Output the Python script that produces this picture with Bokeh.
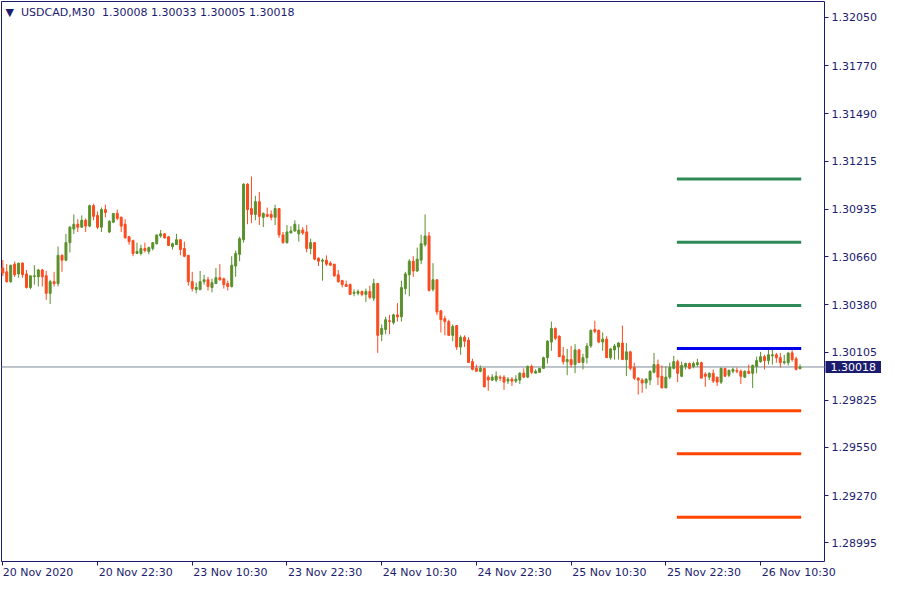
from bokeh.plotting import figure
from bokeh.models import (Range1d, FixedTicker, Label, ColumnDataSource,
                          PrintfTickFormatter, LinearAxis)
from bokeh.embed import file_html
from bokeh.resources import INLINE

SYMBOL = "USDCAD,M30"

opens = [
    1.30593, 1.30571, 1.30514, 1.30616, 1.30559, 1.30622, 1.30559, 1.30480, 1.30544, 1.30542,
    1.30582, 1.30548, 1.30446, 1.30514, 1.30503, 1.30667, 1.30639, 1.30741, 1.30820, 1.30848,
    1.30831, 1.30871, 1.30837, 1.30956, 1.30899, 1.30831, 1.30933, 1.30803, 1.30860, 1.30911,
    1.30888, 1.30848, 1.30775, 1.30752, 1.30678, 1.30678, 1.30707, 1.30690, 1.30707, 1.30735,
    1.30780, 1.30792, 1.30775, 1.30718, 1.30729, 1.30758, 1.30707, 1.30667, 1.30514, 1.30469,
    1.30469, 1.30514, 1.30525, 1.30480, 1.30503, 1.30537, 1.30531, 1.30503, 1.30486, 1.30605,
    1.30673, 1.30758, 1.31081, 1.30939, 1.30905, 1.30979, 1.30888, 1.30905, 1.30905, 1.30888,
    1.30939, 1.30786, 1.30741, 1.30797, 1.30809, 1.30792, 1.30814, 1.30803, 1.30707, 1.30741,
    1.30650, 1.30633, 1.30639, 1.30622, 1.30616, 1.30554, 1.30520, 1.30497, 1.30497, 1.30446,
    1.30446, 1.30457, 1.30440, 1.30457, 1.30418, 1.30503, 1.30208, 1.30236, 1.30287, 1.30276,
    1.30321, 1.30310, 1.30474, 1.30554, 1.30633, 1.30576, 1.30639, 1.30729, 1.30780, 1.30469,
    1.30525, 1.30344, 1.30299, 1.30282, 1.30202, 1.30259, 1.30134, 1.30191, 1.30174, 1.30049,
    1.30010, 1.29993, 1.30010, 1.29959, 1.29942, 1.29942, 1.29959, 1.29959, 1.29936, 1.29947,
    1.29936, 1.29942, 1.29982, 1.29959, 1.30021, 1.29982, 1.29987, 1.30010, 1.30072, 1.30163,
    1.30242, 1.30197, 1.30083, 1.30049, 1.30061, 1.30032, 1.30117, 1.30044, 1.30072, 1.30140,
    1.30236, 1.30231, 1.30163, 1.30180, 1.30072, 1.30117, 1.30134, 1.30157, 1.30061, 1.30106,
    1.30015, 1.29953, 1.29942, 1.29925, 1.29942, 1.29987, 1.30032, 1.29964, 1.29896, 1.29959,
    1.30010, 1.30049, 1.29964, 1.30021, 1.30038, 1.30021, 1.30032, 1.30043, 1.29976, 1.29959,
    1.29981, 1.29959, 1.29930, 1.30010, 1.29970, 1.29993, 1.29998, 1.29993, 1.29959, 1.29993,
    1.29981, 1.30021, 1.30049, 1.30078, 1.30055, 1.30083, 1.30089, 1.30072, 1.30043, 1.30043,
    1.30100, 1.30066, 1.30008,
]
highs = [
    1.30640, 1.30616, 1.30610, 1.30631, 1.30622, 1.30627, 1.30582, 1.30548, 1.30610, 1.30588,
    1.30588, 1.30576, 1.30525, 1.30571, 1.30718, 1.30673, 1.30792, 1.30837, 1.30905, 1.30877,
    1.30899, 1.30882, 1.30962, 1.30967, 1.30922, 1.30945, 1.30962, 1.30871, 1.30911, 1.30933,
    1.30894, 1.30877, 1.30780, 1.30758, 1.30741, 1.30729, 1.30741, 1.30718, 1.30741, 1.30786,
    1.30814, 1.30797, 1.30780, 1.30741, 1.30792, 1.30758, 1.30747, 1.30667, 1.30571, 1.30508,
    1.30576, 1.30554, 1.30542, 1.30531, 1.30593, 1.30616, 1.30537, 1.30520, 1.30662, 1.30695,
    1.30775, 1.31086, 1.31086, 1.31126, 1.31013, 1.31035, 1.30916, 1.30945, 1.30928, 1.30962,
    1.30939, 1.30803, 1.30843, 1.30837, 1.30871, 1.30848, 1.30831, 1.30843, 1.30764, 1.30741,
    1.30656, 1.30650, 1.30667, 1.30633, 1.30616, 1.30582, 1.30525, 1.30520, 1.30503, 1.30469,
    1.30469, 1.30463, 1.30474, 1.30491, 1.30531, 1.30503, 1.30265, 1.30310, 1.30321, 1.30327,
    1.30389, 1.30520, 1.30571, 1.30645, 1.30662, 1.30712, 1.30786, 1.30905, 1.30803, 1.30622,
    1.30525, 1.30350, 1.30316, 1.30293, 1.30265, 1.30259, 1.30202, 1.30202, 1.30191, 1.30066,
    1.30032, 1.30027, 1.30010, 1.29970, 1.29976, 1.29993, 1.29970, 1.29970, 1.29959, 1.29959,
    1.29970, 1.29987, 1.30010, 1.30027, 1.30032, 1.30004, 1.30010, 1.30078, 1.30174, 1.30282,
    1.30248, 1.30202, 1.30134, 1.30123, 1.30140, 1.30151, 1.30123, 1.30095, 1.30157, 1.30236,
    1.30287, 1.30236, 1.30219, 1.30197, 1.30129, 1.30151, 1.30163, 1.30259, 1.30157, 1.30112,
    1.30043, 1.29959, 1.29953, 1.29953, 1.29998, 1.30100, 1.30061, 1.30027, 1.30021, 1.30043,
    1.30083, 1.30061, 1.30049, 1.30043, 1.30043, 1.30049, 1.30066, 1.30049, 1.29987, 1.29987,
    1.30004, 1.29959, 1.30015, 1.30010, 1.30004, 1.30015, 1.30015, 1.30004, 1.29998, 1.30032,
    1.30032, 1.30078, 1.30106, 1.30089, 1.30117, 1.30129, 1.30100, 1.30100, 1.30089, 1.30100,
    1.30123, 1.30078, 1.30033,
]
lows = [
    1.30546, 1.30508, 1.30508, 1.30542, 1.30537, 1.30537, 1.30474, 1.30470, 1.30497, 1.30486,
    1.30486, 1.30408, 1.30384, 1.30486, 1.30486, 1.30571, 1.30633, 1.30684, 1.30792, 1.30803,
    1.30826, 1.30803, 1.30831, 1.30871, 1.30820, 1.30803, 1.30888, 1.30797, 1.30854, 1.30871,
    1.30803, 1.30764, 1.30729, 1.30662, 1.30678, 1.30667, 1.30684, 1.30673, 1.30695, 1.30729,
    1.30769, 1.30764, 1.30724, 1.30701, 1.30729, 1.30667, 1.30656, 1.30491, 1.30457, 1.30446,
    1.30463, 1.30497, 1.30463, 1.30452, 1.30503, 1.30520, 1.30474, 1.30463, 1.30480, 1.30542,
    1.30633, 1.30741, 1.30848, 1.30854, 1.30871, 1.30843, 1.30831, 1.30888, 1.30871, 1.30843,
    1.30769, 1.30735, 1.30735, 1.30797, 1.30803, 1.30747, 1.30786, 1.30684, 1.30673, 1.30639,
    1.30605, 1.30520, 1.30605, 1.30605, 1.30542, 1.30508, 1.30480, 1.30486, 1.30440, 1.30429,
    1.30435, 1.30429, 1.30395, 1.30412, 1.30401, 1.30100, 1.30168, 1.30208, 1.30208, 1.30265,
    1.30282, 1.30282, 1.30440, 1.30429, 1.30542, 1.30571, 1.30616, 1.30718, 1.30457, 1.30457,
    1.30321, 1.30219, 1.30202, 1.30202, 1.30168, 1.30117, 1.30089, 1.30134, 1.30044, 1.29998,
    1.29993, 1.29987, 1.29902, 1.29879, 1.29936, 1.29930, 1.29936, 1.29885, 1.29919, 1.29908,
    1.29925, 1.29919, 1.29953, 1.29953, 1.29976, 1.29982, 1.29987, 1.30010, 1.30038, 1.30112,
    1.30174, 1.30078, 1.30032, 1.29970, 1.30015, 1.29982, 1.30044, 1.30004, 1.30038, 1.30129,
    1.30214, 1.30157, 1.30112, 1.30072, 1.30061, 1.30061, 1.30061, 1.30061, 1.29965, 1.29998,
    1.29942, 1.29857, 1.29868, 1.29891, 1.29913, 1.29981, 1.29913, 1.29896, 1.29896, 1.29947,
    1.30004, 1.29930, 1.29959, 1.30004, 1.30004, 1.30010, 1.30021, 1.29953, 1.29902, 1.29942,
    1.29925, 1.29908, 1.29919, 1.29964, 1.29959, 1.29981, 1.29981, 1.29919, 1.29953, 1.29976,
    1.29896, 1.29981, 1.30043, 1.30004, 1.30032, 1.30032, 1.30043, 1.30015, 1.30032, 1.30027,
    1.30049, 1.29998, 1.30005,
]
closes = [
    1.30565, 1.30514, 1.30610, 1.30554, 1.30622, 1.30555, 1.30480, 1.30548, 1.30548, 1.30582,
    1.30542, 1.30446, 1.30514, 1.30503, 1.30667, 1.30639, 1.30741, 1.30831, 1.30848, 1.30831,
    1.30871, 1.30837, 1.30956, 1.30894, 1.30831, 1.30933, 1.30916, 1.30865, 1.30911, 1.30882,
    1.30837, 1.30769, 1.30747, 1.30678, 1.30690, 1.30707, 1.30695, 1.30712, 1.30741, 1.30786,
    1.30792, 1.30769, 1.30724, 1.30735, 1.30758, 1.30701, 1.30662, 1.30514, 1.30474, 1.30480,
    1.30514, 1.30525, 1.30486, 1.30508, 1.30537, 1.30525, 1.30497, 1.30486, 1.30610, 1.30678,
    1.30764, 1.31081, 1.30933, 1.30905, 1.30979, 1.30894, 1.30911, 1.30894, 1.30888, 1.30939,
    1.30786, 1.30741, 1.30803, 1.30809, 1.30848, 1.30814, 1.30797, 1.30707, 1.30741, 1.30645,
    1.30633, 1.30639, 1.30616, 1.30610, 1.30548, 1.30514, 1.30497, 1.30486, 1.30440, 1.30452,
    1.30457, 1.30440, 1.30457, 1.30423, 1.30503, 1.30202, 1.30242, 1.30293, 1.30282, 1.30321,
    1.30310, 1.30480, 1.30559, 1.30633, 1.30576, 1.30645, 1.30735, 1.30780, 1.30463, 1.30525,
    1.30338, 1.30293, 1.30282, 1.30202, 1.30253, 1.30134, 1.30191, 1.30168, 1.30044, 1.30004,
    1.29993, 1.30010, 1.29902, 1.29942, 1.29959, 1.29965, 1.29953, 1.29930, 1.29947, 1.29936,
    1.29947, 1.29982, 1.29959, 1.30021, 1.29987, 1.29993, 1.30010, 1.30072, 1.30168, 1.30242,
    1.30185, 1.30078, 1.30049, 1.30061, 1.30032, 1.30117, 1.30044, 1.30072, 1.30140, 1.30231,
    1.30225, 1.30163, 1.30180, 1.30072, 1.30123, 1.30140, 1.30157, 1.30061, 1.30106, 1.30010,
    1.29953, 1.29942, 1.29925, 1.29947, 1.29993, 1.30032, 1.29959, 1.29896, 1.29959, 1.30015,
    1.30049, 1.29981, 1.30027, 1.30038, 1.30010, 1.30038, 1.30043, 1.29953, 1.29964, 1.29981,
    1.29936, 1.29930, 1.30010, 1.29964, 1.29998, 1.30004, 1.29993, 1.29964, 1.29993, 1.29981,
    1.30027, 1.30055, 1.30078, 1.30055, 1.30089, 1.30089, 1.30072, 1.30043, 1.30049, 1.30100,
    1.30061, 1.30004, 1.30018,
]

# x-axis labels (every 24 bars of M30)
date_tick_bars = [0, 24, 48, 72, 96, 120, 144, 168, 192]
date_tick_labels = ["20 Nov 2020", "20 Nov 22:30", "23 Nov 10:30", "23 Nov 22:30",
                    "24 Nov 10:30", "24 Nov 22:30", "25 Nov 10:30", "25 Nov 22:30",
                    "26 Nov 10:30"]
price_ticks = [1.32050, 1.31770, 1.31490, 1.31215, 1.30935, 1.30660,
               1.30380, 1.30105, 1.29825, 1.29550, 1.29270, 1.28995]

# horizontal levels drawn at the right
upper_levels = [1.31111, 1.30743, 1.30376]
pivot_level = [1.30125]
lower_levels = [1.29763, 1.29513, 1.29145]
level_start_bar = 170.8
level_end_bar = 202.3

NAVY = "#1c1c6e"
BULL = "#5a902c"
BEAR = "#fb4b1f"
FONT = "DejaVu Sans"

# ---- geometry: the frame covers the whole canvas, the chart box sits inside it
FIG_W, FIG_H = 884, 584
BOX_PX_L, BOX_PX_R, BOX_PX_T, BOX_PX_B = 1, 824, 1, 561
BOX_LEFT, BOX_RIGHT = -0.33, 208.2
BOX_TOP, BOX_BOTTOM = 1.32143, 1.28887
bar_px = (BOX_PX_R - BOX_PX_L) / (BOX_RIGHT - BOX_LEFT)
price_per_px = (BOX_TOP - BOX_BOTTOM) / (BOX_PX_B - BOX_PX_T)
X_START = BOX_LEFT - BOX_PX_L / bar_px
X_END = BOX_RIGHT + (FIG_W - BOX_PX_R) / bar_px
Y_END = BOX_TOP + BOX_PX_T * price_per_px
Y_START = BOX_BOTTOM - (FIG_H - BOX_PX_B) * price_per_px

n = len(opens)
xs = list(range(n))
src = ColumnDataSource(dict(
    x=xs,
    high=highs, low=lows,
    top=[max(o, c) for o, c in zip(opens, closes)],
    bottom=[min(o, c) for o, c in zip(opens, closes)],
    color=[BULL if c >= o else BEAR for o, c in zip(opens, closes)],
))

p = figure(width=FIG_W, height=FIG_H, output_backend="svg", toolbar_location=None,
           x_range=Range1d(X_START, X_END), y_range=Range1d(Y_START, Y_END),
           y_axis_location="right", x_axis_location="below",
           min_border_left=0, min_border_top=0, min_border_right=0, min_border_bottom=0)
p.background_fill_color = "white"
p.border_fill_color = "white"
p.outline_line_color = None
p.xgrid.visible = False
p.ygrid.visible = False

# ---- price axis, fixed at the right edge of the chart box
yax = p.yaxis[0]
yax.fixed_location = BOX_RIGHT
yax.ticker = FixedTicker(ticks=price_ticks)
yax.formatter = PrintfTickFormatter(format="%.5f")
yax.axis_line_color = None          # the box border draws the axis line
yax.major_tick_line_color = NAVY
yax.minor_tick_line_color = None
yax.major_tick_out = 4
yax.major_tick_in = 0
yax.major_label_standoff = 3
yax.major_label_text_color = NAVY
yax.major_label_text_font = FONT
yax.major_label_text_font_size = "11px"

# ---- time axis: tick marks
xax = p.xaxis[0]
xax.fixed_location = BOX_BOTTOM
xax.ticker = FixedTicker(ticks=date_tick_bars)
xax.major_label_overrides = {b: "" for b in date_tick_bars}
xax.major_label_text_font_size = "0px"
xax.axis_line_color = None
xax.major_tick_line_color = NAVY
xax.minor_tick_line_color = None
xax.major_tick_out = 4
xax.major_tick_in = 0

# ---- time axis: labels that start at their tick (as in the terminal)
label_pos = [b + (1 + 3.1 * len(t)) / bar_px for b, t in zip(date_tick_bars, date_tick_labels)]
xlab = LinearAxis(fixed_location=BOX_BOTTOM, ticker=FixedTicker(ticks=label_pos),
                  major_label_overrides={v: t for v, t in zip(label_pos, date_tick_labels)},
                  axis_line_color=None, major_tick_line_color=None,
                  minor_tick_line_color=None, major_tick_out=0, major_tick_in=0,
                  major_label_standoff=4, major_label_text_color=NAVY,
                  major_label_text_font=FONT, major_label_text_font_size="11px")
p.add_layout(xlab, "below")

# ---- chart box border
p.quad(left=[BOX_LEFT], right=[BOX_RIGHT], top=[BOX_TOP], bottom=[BOX_BOTTOM],
       fill_color=None, line_color=NAVY, line_width=1)

# ---- current price line
p.segment(x0=[BOX_LEFT], y0=[closes[-1]], x1=[BOX_RIGHT], y1=[closes[-1]],
          line_color="#7a8896", line_width=1)

# ---- candles
p.segment(x0="x", y0="low", x1="x", y1="high", line_color="color", line_width=1, source=src)
p.vbar(x="x", width=0.5, top="top", bottom="bottom", fill_color="color",
       line_color="color", line_width=1, source=src)

# ---- level lines
for lv in upper_levels:
    p.segment(x0=[level_start_bar], y0=[lv], x1=[level_end_bar], y1=[lv],
              line_color="#2e8b57", line_width=3)
for lv in pivot_level:
    p.segment(x0=[level_start_bar], y0=[lv], x1=[level_end_bar], y1=[lv],
              line_color="#0000ee", line_width=3)
for lv in lower_levels:
    p.segment(x0=[level_start_bar], y0=[lv], x1=[level_end_bar], y1=[lv],
              line_color="#ff4500", line_width=3)

# ---- header text
header = "\u25BC\u00a0\u00a0" + SYMBOL + "\u00a0 " + " ".join(
    f"{v:.5f}" for v in (opens[-1], highs[-1], lows[-1], closes[-1]))
p.add_layout(Label(x=BOX_LEFT + 4 / bar_px, y=BOX_TOP - 4 * price_per_px, text=header,
                   text_font=FONT, text_font_size="11px", text_color=NAVY,
                   text_baseline="top", text_align="left"))

# ---- current price box on the axis
p.add_layout(Label(x=BOX_RIGHT, y=closes[-1], text=f"{closes[-1]:.5f}", x_offset=1,
                   text_font=FONT, text_font_size="11px", text_color="white",
                   text_baseline="middle", text_align="left",
                   background_fill_color=NAVY, padding=(5, 2)))

open("out.html", "w").write(file_html(p, INLINE))
